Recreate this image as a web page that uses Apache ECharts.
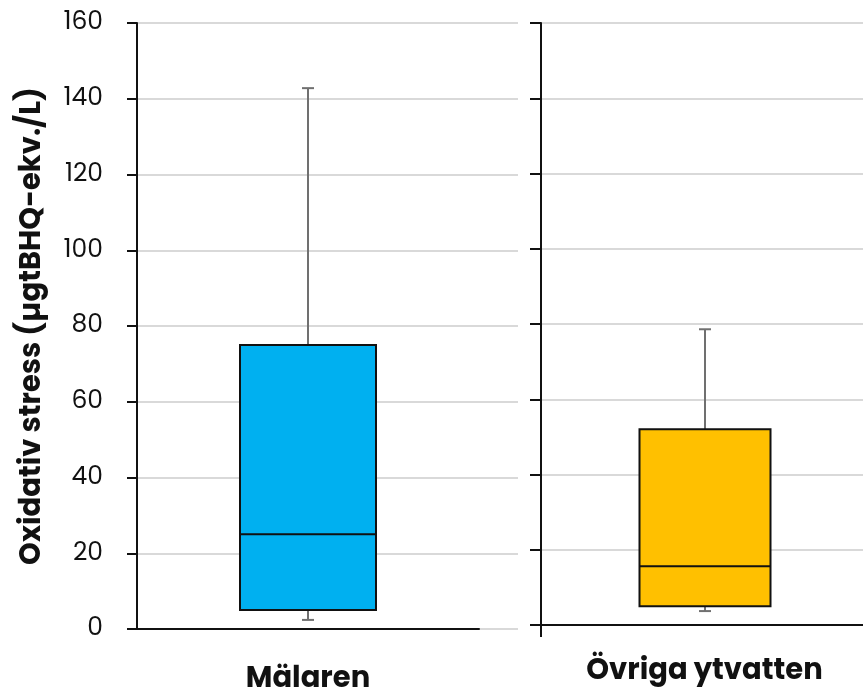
<!DOCTYPE html>
<html>
<head>
<meta charset="utf-8">
<script src="https://cdn.jsdelivr.net/npm/echarts@6/dist/echarts.min.js"></script>
<style>html,body{margin:0;padding:0;background:#fff}#c{width:863px;height:691px}</style>
</head>
<body>
<div id="c"></div>
<script>
// Data
const categoriesLeft = ['Mälaren'];
const categoriesRight = ['Övriga ytvatten'];
// [min, Q1, median, Q3, max]
const malarenStats = [2.4, 5.0, 25.0, 75.0, 142.8];
const ovrigaStats = [3.7, 5.0, 15.6, 52.0, 78.6];
const yTicks = [0, 20, 40, 60, 80, 100, 120, 140, 160];
const yTitle = 'Oxidativ stress (µgtBHQ-ekv./L)';

const FONT = 'Poppins, Inter, "Noto Sans", sans-serif';

function boxRender(fill, boxW) {
  return function (params, api) {
    const v = [api.value(1), api.value(2), api.value(3), api.value(4), api.value(5)];
    const x = api.value(0);
    const pMin = api.coord([x, v[0]]);
    const pQ1 = api.coord([x, v[1]]);
    const pMed = api.coord([x, v[2]]);
    const pQ3 = api.coord([x, v[3]]);
    const pMax = api.coord([x, v[4]]);
    const cx = Math.round(pMed[0]);
    const half = boxW / 2;
    const capHalf = 6;
    const gray = { stroke: '#707070', lineWidth: 2 };
    return {
      type: 'group',
      children: [
        { type: 'line', shape: { x1: cx, y1: pMax[1], x2: cx, y2: pQ3[1] }, style: gray },
        { type: 'line', shape: { x1: cx - capHalf, y1: pMax[1], x2: cx + capHalf, y2: pMax[1] }, style: gray },
        { type: 'line', shape: { x1: cx, y1: pMin[1], x2: cx, y2: pQ1[1] }, style: gray },
        { type: 'line', shape: { x1: cx - capHalf, y1: pMin[1], x2: cx + capHalf, y2: pMin[1] }, style: gray },
        { type: 'rect', shape: { x: cx - half, y: pQ3[1], width: boxW, height: pQ1[1] - pQ3[1] },
          style: { fill: fill, stroke: '#111', lineWidth: 2 } },
        { type: 'line', shape: { x1: cx - half, y1: pMed[1], x2: cx + half, y2: pMed[1] },
          style: { stroke: '#111', lineWidth: 2 } }
      ]
    };
  };
}

const yBase = { type: 'value', min: 0, max: 160, interval: 20 };
const gridBase = { outerBoundsMode: 'none', containLabel: false };

const chart = echarts.init(document.getElementById('c'), null, { renderer: 'canvas' });
chart.setOption({
  animation: false,
  backgroundColor: '#fff',
  grid: [
    Object.assign({ left: 137, top: 23, width: 381, height: 606 }, gridBase),
    Object.assign({ left: 137, top: 23, width: 342, height: 606 }, gridBase),
    Object.assign({ left: 541, top: 23, width: 322, height: 602 }, gridBase),
    Object.assign({ left: 541, top: 23, width: 327, height: 602 }, gridBase),
    Object.assign({ left: 531, top: 23, width: 20, height: 602 }, gridBase)
  ],
  xAxis: [
    { gridIndex: 0, type: 'category', data: [''], show: false },
    { gridIndex: 1, type: 'category', data: categoriesLeft,
      axisLine: { show: true, lineStyle: { color: '#111', width: 2 } },
      axisTick: { show: false },
      axisLabel: { margin: 36, color: '#111', fontFamily: FONT, fontWeight: 'bold', fontSize: 29 } },
    { gridIndex: 2, type: 'category', data: [''], show: false },
    { gridIndex: 3, type: 'category', data: categoriesRight,
      axisLine: { show: true, lineStyle: { color: '#111', width: 2 } },
      axisTick: { show: false },
      axisLabel: { margin: 32, color: '#111', fontFamily: FONT, fontWeight: 'bold', fontSize: 29 } },
    { gridIndex: 4, type: 'category', data: [''],
      axisLine: { show: false },
      axisTick: { show: true, alignWithLabel: true, length: 12, lineStyle: { color: '#111', width: 2 } },
      axisLabel: { show: false } }
  ],
  yAxis: [
    Object.assign({}, yBase, { gridIndex: 0,
      name: yTitle, nameLocation: 'middle', nameGap: 90,
      nameTextStyle: { color: '#111', fontFamily: FONT, fontWeight: 'bold', fontSize: 29 },
      axisLine: { show: true, lineStyle: { color: '#111', width: 2 } },
      axisTick: { show: true, length: 10, lineStyle: { color: '#111', width: 2 } },
      axisLabel: { margin: 34, color: '#111', fontFamily: FONT, fontSize: 25,
        formatter: function (v) { return yTicks.indexOf(v) >= 0 ? String(v) : ''; } },
      splitLine: { show: true, lineStyle: { color: '#d9d9d9', width: 2 } } }),
    Object.assign({}, yBase, { gridIndex: 1, show: false }),
    Object.assign({}, yBase, { gridIndex: 2,
      axisLine: { show: true, lineStyle: { color: '#111', width: 2 } },
      axisTick: { show: true, length: 11, lineStyle: { color: '#111', width: 2 } },
      axisLabel: { show: false },
      splitLine: { show: true, lineStyle: { color: '#d9d9d9', width: 2 } } }),
    Object.assign({}, yBase, { gridIndex: 3, show: false }),
    Object.assign({}, yBase, { gridIndex: 4, show: false })
  ],
  series: [
    { type: 'custom', xAxisIndex: 1, yAxisIndex: 1,
      renderItem: boxRender('#00b0f0', 136),
      encode: { x: 0, y: [1, 2, 3, 4, 5] },
      data: [[0].concat(malarenStats)] },
    { type: 'custom', xAxisIndex: 3, yAxisIndex: 3,
      renderItem: boxRender('#ffc000', 131),
      encode: { x: 0, y: [1, 2, 3, 4, 5] },
      data: [[0].concat(ovrigaStats)] }
  ]
});
</script>
</body>
</html>
